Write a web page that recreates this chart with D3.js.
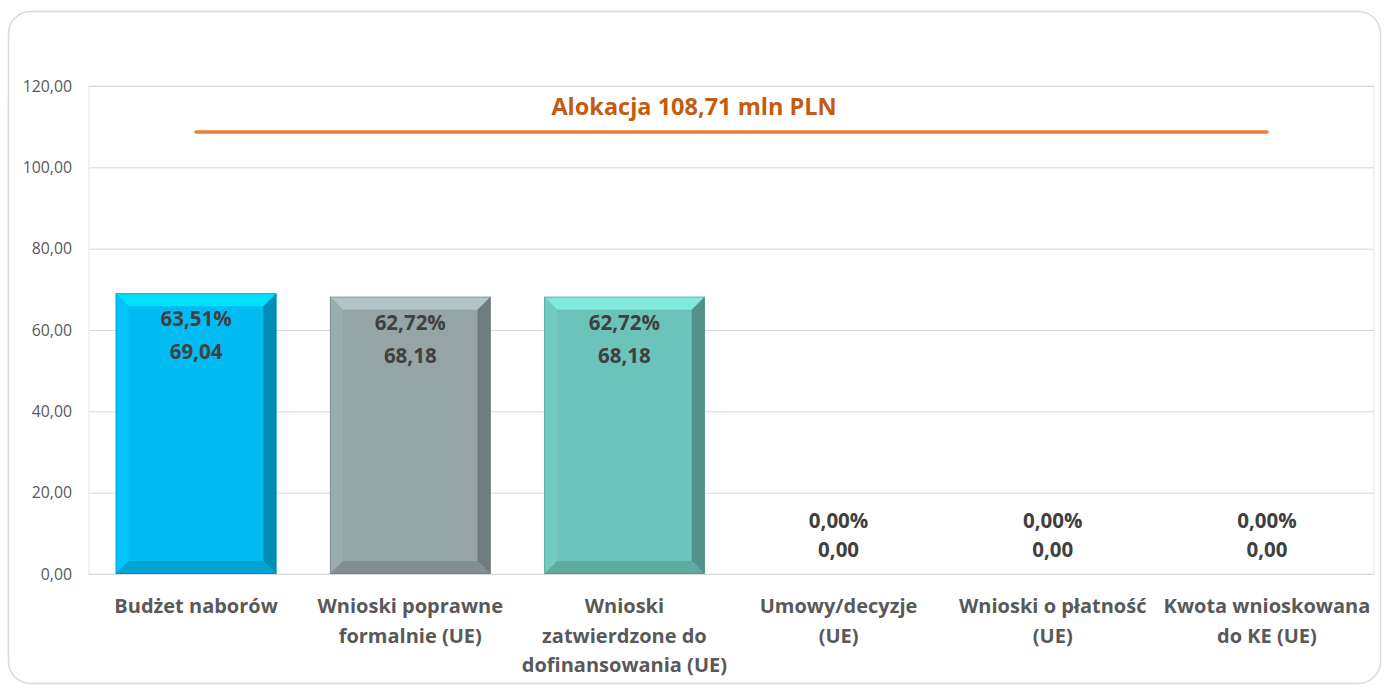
<!DOCTYPE html>
<html><head><meta charset="utf-8">
<script src="https://cdn.jsdelivr.net/npm/d3@7"></script>
<style>
html,body{margin:0;padding:0;background:#fff;}
svg{display:block;font-family:"Open Sans",Lato,sans-serif;}
</style></head>
<body><svg id="c" width="1384" height="686"></svg>
<script>
const categories = ["Budżet naborów","Wnioski poprawne\nformalnie (UE)","Wnioski\nzatwierdzone do\ndofinansowania (UE)","Umowy/decyzje\n(UE)","Wnioski o płatność\n(UE)","Kwota wnioskowana\ndo KE (UE)"];
const values = [69.04, 68.18, 68.18, 0, 0, 0];
const percents = [63.51, 62.72, 62.72, 0, 0, 0];
const barColors = ["#00BCF2","#95A5A6","#6CC3B9","#00BCF2","#95A5A6","#6CC3B9"];
const allocation = 108.71;
const allocationLabel = "Alokacja 108,71 mln PLN";
const yTicks = [0,20,40,60,80,100,120];

const svg = d3.select("#c");
const fmt = v => v.toFixed(2).replace(".", ",");
const m = {left: 89, right: 1374, top: 86, bottom: 574};

// outer frame
svg.append("rect").attr("x",8.5).attr("y",11.5).attr("width",1372).attr("height",672)
  .attr("rx",22).attr("fill","#fff").attr("stroke","#D9D9D9").attr("stroke-width",1.5);

const x = d3.scaleBand().domain(d3.range(categories.length)).range([m.left, m.right]).paddingInner(0.25).paddingOuter(0.125);
const y = d3.scaleLinear().domain([0,120]).range([m.bottom, m.top]);

// plot border
svg.append("rect").attr("x",m.left).attr("y",m.top).attr("width",m.right-m.left).attr("height",m.bottom-m.top)
  .attr("fill","none").attr("stroke","#E3E3E3").attr("stroke-width",1);

// y axis with gridlines
const yAxis = svg.append("g").attr("transform",`translate(${m.left},0)`)
  .call(d3.axisLeft(y).tickValues(yTicks).tickFormat(fmt).tickSize(-(m.right-m.left)).tickPadding(17));
yAxis.select(".domain").remove();
yAxis.selectAll("line").attr("stroke","#D9D9D9");
yAxis.selectAll("text").attr("fill","#595959").style("font-size","15.8px").style("font-family","'Open Sans',sans-serif");

// bars with bevel
const b = 13;
categories.forEach((c,i)=>{
  const v = values[i];
  if (v <= 0) return;
  const x0 = x(i), x1 = x(i)+x.bandwidth(), y0 = y(v), y1 = y(0);
  const col = d3.color(barColors[i]);
  const g = svg.append("g");
  g.append("rect").attr("x",x0).attr("y",y0).attr("width",x1-x0).attr("height",y1-y0).attr("fill",col);
  const poly = (pts, fill) => g.append("polygon").attr("points", pts.map(p=>p.join(",")).join(" ")).attr("fill", fill);
  poly([[x0,y0],[x1,y0],[x1-b,y0+b],[x0+b,y0+b]], col.brighter(0.5));
  poly([[x0,y0],[x0+b,y0+b],[x0+b,y1-b],[x0,y1]], col.brighter(0.12));
  poly([[x1,y0],[x1,y1],[x1-b,y1-b],[x1-b,y0+b]], col.darker(0.8));
  poly([[x0,y1],[x1,y1],[x1-b,y1-b],[x0+b,y1-b]], col.darker(0.4));
  g.append("rect").attr("x",x0+0.5).attr("y",y0+0.5).attr("width",x1-x0-1).attr("height",y1-y0-1)
    .attr("fill","none").attr("stroke",col.darker(1.3)).attr("stroke-opacity",0.35);
});

// data labels
categories.forEach((c,i)=>{
  const cx = x(i)+x.bandwidth()/2;
  const v = values[i];
  let yp, yv;
  if (v > 0) { yp = y(v)+26; yv = y(v)+59; }
  else { yp = y(0)-53; yv = y(0)-24; }
  [[percents[i].toFixed(2).replace(".",",")+"%", yp],[fmt(v), yv]].forEach(([t,yy])=>{
    svg.append("text").attr("x",cx).attr("y",yy).attr("dy","0.35em").attr("text-anchor","middle")
      .attr("fill","#404040").style("font-size","20.5px").style("font-weight","bold").text(t);
  });
});

// allocation line
const lineGen = d3.line().x(i=>x(i)+x.bandwidth()/2).y(()=>y(allocation));
svg.append("path").datum([0, categories.length-1]).attr("d",lineGen)
  .attr("stroke","#ED7D31").attr("stroke-width",3.5).attr("fill","none").attr("stroke-linecap","round");
svg.append("text").attr("x",694).attr("y",107).attr("dy","0.35em").attr("text-anchor","middle")
  .attr("fill","#C55A11").style("font-size","23.5px").style("font-weight","bold").text(allocationLabel);

// category labels
categories.forEach((c,i)=>{
  const cx = x(i)+x.bandwidth()/2;
  const t = svg.append("text").attr("text-anchor","middle").attr("fill","#595959")
    .style("font-size","20px").style("font-weight","bold");
  c.split("\n").forEach((ln,k)=>{
    t.append("tspan").attr("x",cx).attr("y",606+k*29.5).attr("dy","0.35em").text(ln);
  });
});
</script></body></html>
